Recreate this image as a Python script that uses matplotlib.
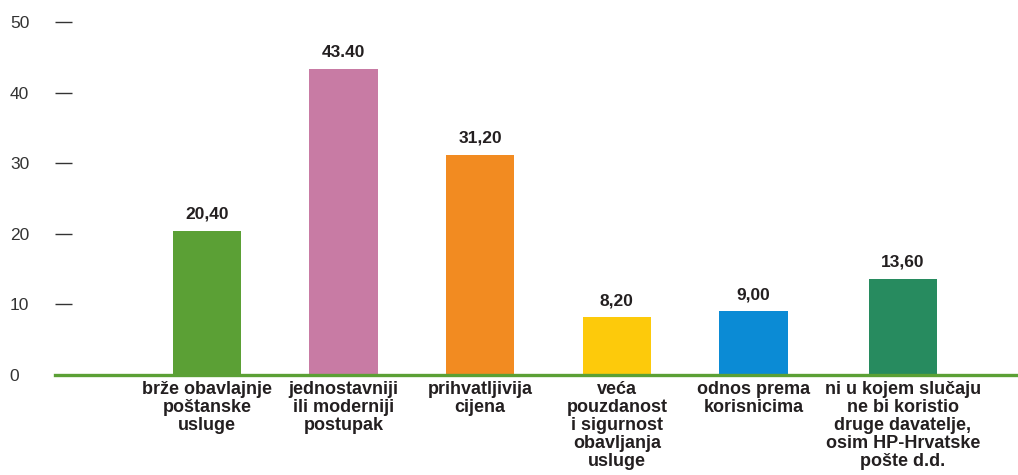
import matplotlib.pyplot as plt

# ---------------------------------------------------------
# data
# ---------------------------------------------------------
categories = [
    'brže obavlajnje\npoštanske\nusluge',
    'jednostavniji\nili moderniji\npostupak',
    'prihvatljivija\ncijena',
    'veća\npouzdanost\ni sigurnost\nobavljanja\nusluge',
    'odnos prema\nkorisnicima',
    'ni u kojem slučaju\nne bi koristio\ndruge davatelje,\nosim HP-Hrvatske\npošte d.d.',
]
values = [20.40, 43.40, 31.20, 8.20, 9.00, 13.60]
value_labels = ['20,40', '43.40', '31,20', '8,20', '9,00', '13,60']
yticks = [0, 10, 20, 30, 40, 50]

# layout / style
positions = [0, 1, 2, 3, 4, 5.095]
colors = ['#5ba035', '#c87ba4', '#f28b21', '#fdca0b', '#0b8bd5', '#278b5f']
BASE_GREEN = '#5ba035'
TEXT = '#231f20'

plt.rcParams['font.family'] = ['Liberation Sans', 'DejaVu Sans']

fig = plt.figure(figsize=(10.18, 4.75), dpi=100)
ax = fig.add_axes([55 / 1018, 100 / 475, 963 / 1018, 353 / 475])

ax.bar(positions, values, width=0.5, color=colors, zorder=2)

for x, v, lab in zip(positions, values, value_labels):
    ax.annotate(lab, (x, v), xytext=(0, 6.5), textcoords='offset points',
                ha='center', va='bottom', fontsize=12.5, fontweight='bold',
                color=TEXT)

for x, cat in zip(positions, categories):
    ax.annotate(cat, (x, 0), xytext=(0, -4.5), textcoords='offset points',
                ha='center', va='top', fontsize=13, fontweight='bold',
                color=TEXT, linespacing=1.08, annotation_clip=False)

ax.axhline(0, color=BASE_GREEN, lw=2.4, zorder=5, clip_on=False)

ax.set_xlim(-1.113, 5.937)
ax.set_ylim(0, 50)
ax.set_xticks([])
ax.set_yticks(yticks)
ax.set_yticklabels([str(t) for t in yticks], ha='left')
ax.tick_params(axis='y', direction='in', length=12.5, width=1.0,
               color='#333333', pad=32.5, labelsize=12.5, labelcolor='#333333')
for s in ax.spines.values():
    s.set_visible(False)

fig.savefig('out.png', dpi=100)
